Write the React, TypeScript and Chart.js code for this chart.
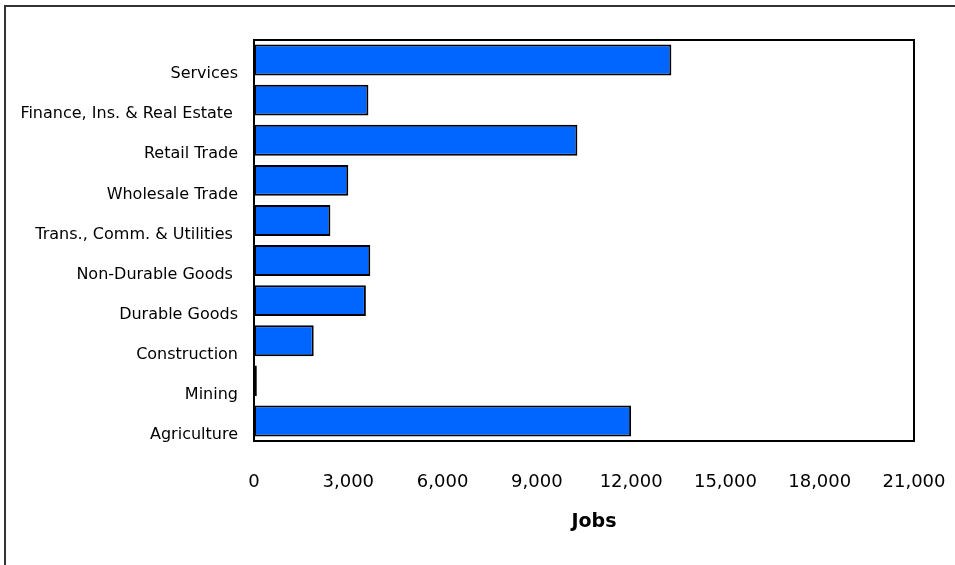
import React, { useEffect, useRef } from "react";
import { Chart, registerables } from "chart.js";

Chart.register(...registerables);

// ---- data ----
const categories: string[] = [
  "Services",
  "Finance, Ins. & Real Estate ",
  "Retail Trade",
  "Wholesale Trade",
  "Trans., Comm. & Utilities ",
  "Non-Durable Goods ",
  "Durable Goods",
  "Construction",
  "Mining",
  "Agriculture",
];
const jobs: number[] = [13280, 3640, 10290, 3000, 2430, 3700, 3560, 1900, 90, 12000];
const xMin = 0;
const xMax = 21000;
const xStep = 3000;
const axisTitle = "Jobs";

const FONT = "'DejaVu Sans', Verdana, sans-serif";

const framePlugin = {
  id: "frames",
  beforeDraw(chart: any) {
    const { ctx, width, height } = chart;
    ctx.save();
    ctx.fillStyle = "#ffffff";
    ctx.fillRect(0, 0, width, height);
    ctx.strokeStyle = "#333333";
    ctx.lineWidth = 2;
    ctx.strokeRect(5, 6, width + 100, height + 100);
    ctx.restore();
  },
  afterDatasetsDraw(chart: any) {
    const { ctx, chartArea } = chart;
    ctx.save();
    ctx.strokeStyle = "#000000";
    ctx.lineWidth = 2;
    ctx.strokeRect(
      chartArea.left,
      chartArea.top,
      chartArea.right - chartArea.left,
      chartArea.bottom - chartArea.top
    );
    ctx.restore();
  },
  afterDraw(chart: any) {
    const { ctx } = chart;
    const xs = chart.scales.x;
    ctx.save();
    ctx.font = `bold 19px ${FONT}`;
    ctx.fillStyle = "#000000";
    ctx.textAlign = "center";
    ctx.textBaseline = "middle";
    ctx.fillText(axisTitle, xs.getPixelForValue((xMin + xMax) / 2) + 10, 522);
    ctx.restore();
  },
};

export default function App() {
  const ref = useRef<HTMLCanvasElement | null>(null);

  useEffect(() => {
    if (!ref.current) return;
    const chart = new Chart(ref.current, {
      type: "bar",
      data: {
        labels: categories,
        datasets: [
          {
            label: axisTitle,
            data: jobs,
            backgroundColor: "#0066FF",
            borderColor: "#000000",
            borderWidth: 2,
            borderSkipped: false,
            barPercentage: 0.77,
            categoryPercentage: 1,
          },
        ],
      },
      options: {
        indexAxis: "y",
        responsive: false,
        animation: false,
        devicePixelRatio: 1,
        layout: { padding: { top: 40, right: 41, left: 0, bottom: 0 } },
        plugins: {
          legend: { display: false },
          tooltip: { enabled: false },
        },
        scales: {
          x: {
            type: "linear",
            min: xMin,
            max: xMax,
            grid: { display: false, drawTicks: false },
            border: { display: false },
            ticks: {
              stepSize: xStep,
              color: "#000000",
              font: { family: FONT, size: 18 },
              padding: 31,
              maxRotation: 0,
              callback: (v: any) => Number(v).toLocaleString("en-US"),
            },
            afterFit: (scale: any) => {
              scale.height = 124;
              scale.paddingLeft = 0;
              scale.paddingRight = 0;
            },
          },
          y: {
            grid: { display: false, drawTicks: false },
            border: { display: false },
            ticks: {
              color: "#000000",
              font: { family: FONT, size: 16 },
              padding: 16,
              labelOffset: 14,
              autoSkip: false,
            },
            afterFit: (scale: any) => {
              scale.width = 254;
              scale.paddingTop = 0;
              scale.paddingBottom = 0;
            },
          },
        },
      },
      plugins: [framePlugin],
    });
    return () => chart.destroy();
  }, []);

  return (
    <div
      style={{
        position: "fixed",
        left: 0,
        top: 0,
        width: 955,
        height: 565,
        overflow: "hidden",
        background: "#fff",
      }}
    >
      <canvas ref={ref} width={955} height={565} style={{ display: "block", width: 955, height: 565 }} />
    </div>
  );
}
